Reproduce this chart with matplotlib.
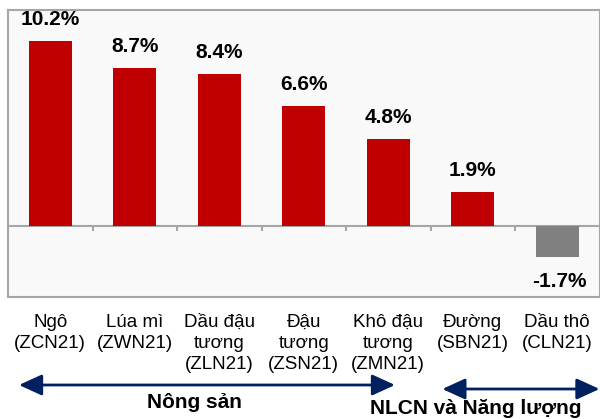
#!/usr/bin/env python3
import matplotlib
matplotlib.use('Agg')
import matplotlib.pyplot as plt
from matplotlib.transforms import blended_transform_factory

categories = ["Ngô\n(ZCN21)", "Lúa mì\n(ZWN21)", "Dầu đậu\ntương\n(ZLN21)",
	"Đậu\ntương\n(ZSN21)", "Khô đậu\ntương\n(ZMN21)", "Đường\n(SBN21)", "Dầu thô\n(CLN21)"]
values = [10.2, 8.7, 8.4, 6.6, 4.8, 1.9, -1.7]
groups = ["Nông sản", "NLCN và Năng lượng"]

plt.rcParams['font.family'] = ['Liberation Sans', 'DejaVu Sans']

RED = '#C00000'
GREY = '#808080'
NAVY = '#002060'
EDGE = '#a6a6a6'

fig = plt.figure(figsize=(6, 4.19), dpi=100)
ax = fig.add_axes([8 / 600, 1 - 297 / 419, 591.5 / 600, 287 / 419])
ax.set_facecolor('#f9f9f9')

x = list(range(len(values)))
colors = [RED if v >= 0 else GREY for v in values]
ax.bar(x, values, width=0.51, color=colors, zorder=2)

for xi, v in zip(x, values):
	if v >= 0:
		ax.annotate(f"{v:.1f}%", (xi, v), xytext=(0, 8.5), textcoords='offset points',
			ha='center', va='bottom', fontsize=15, fontweight='bold', zorder=3)
	else:
		ax.annotate(f"{v:.1f}%", (xi + 0.02, v), xytext=(0, -10.5), textcoords='offset points',
			ha='center', va='top', fontsize=15, fontweight='bold', zorder=3)

ax.set_xlim(-0.5, len(values) - 0.5)
ax.set_ylim(-3.9, 11.9)
ax.axhline(0, color=EDGE, lw=1.5, zorder=1)
ax.vlines([i + 0.5 for i in x[:-1]], 0, -0.25, color=EDGE, lw=1.5, zorder=1)

ax.set_yticks([])
ax.set_xticks(x)
ax.set_xticklabels(categories, fontsize=13.5, linespacing=1.32)
ax.tick_params(axis='x', length=0, pad=12)
for sp in ax.spines.values():
	sp.set_color(EDGE)
	sp.set_linewidth(1.5)

# group arrows
trans = blended_transform_factory(ax.transData, fig.transFigure)
arrow = dict(arrowstyle='<|-|>,head_length=0.7,head_width=0.32', color=NAVY, lw=2,
	mutation_scale=20, shrinkA=0, shrinkB=0)
ax.annotate("", xy=(-0.37, 1 - 385 / 419), xytext=(4.08, 1 - 385 / 419),
	xycoords=trans, textcoords=trans, arrowprops=arrow, annotation_clip=False)
ax.annotate("", xy=(4.64, 1 - 389 / 419), xytext=(6.5, 1 - 389 / 419),
	xycoords=trans, textcoords=trans, arrowprops=arrow, annotation_clip=False)

ax.text(1.71, 1 - 402 / 419, groups[0], transform=trans, ha='center', va='center',
	fontsize=15, fontweight='bold')
ax.text(5.03, 1 - 408 / 419, groups[1], transform=trans, ha='center', va='center',
	fontsize=15, fontweight='bold')

fig.savefig('out.png', dpi=100)
